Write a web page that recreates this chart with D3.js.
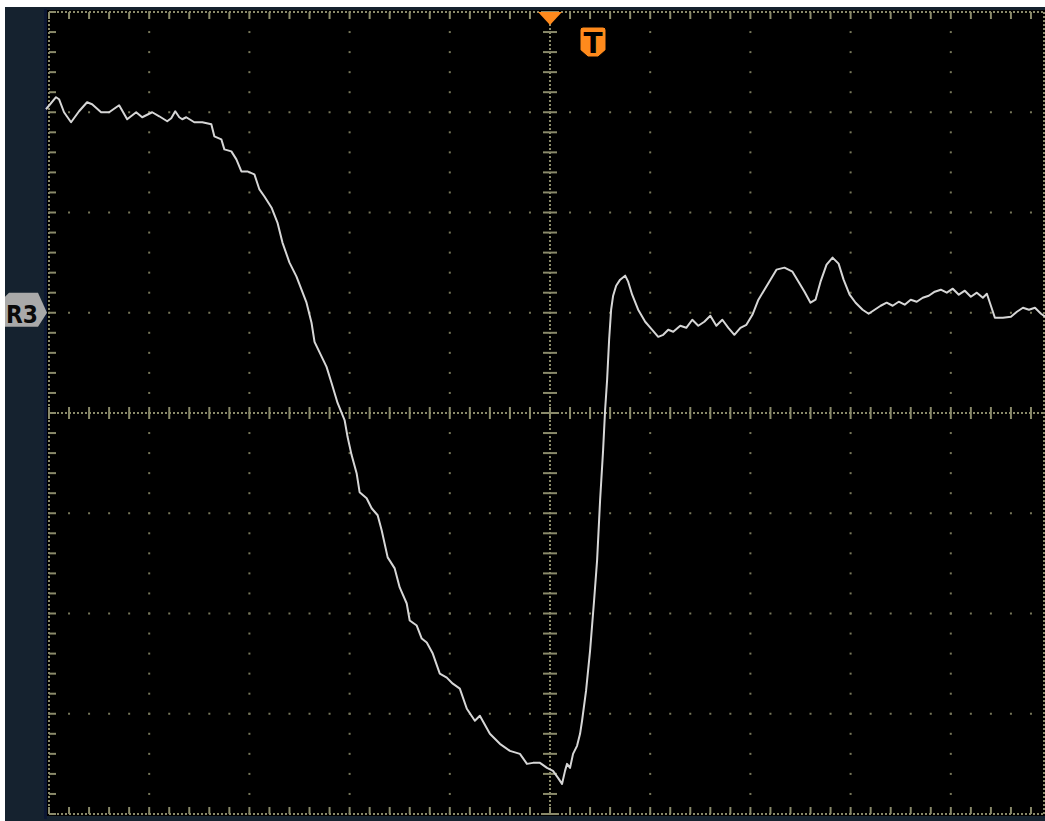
<!DOCTYPE html>
<html>
<head>
<meta charset="utf-8">
<script src="https://cdn.jsdelivr.net/npm/d3@7"></script>
<style>
    html, body { margin: 0; padding: 0; background: #fff; }
    svg { display: block; }
</style>
</head>
<body>
<svg id="scope" width="1045" height="821"></svg>
<script>
// Scope capture, one reference trace (R3).
// Time and level are both in screen divisions, 0 = centre of the graticule.

const traceTime = [
    -5.03, -4.93, -4.90, -4.85, -4.78, -4.70, -4.62, -4.57, -4.48, -4.40,
    -4.30, -4.22, -4.13, -4.07, -3.97, -3.90, -3.82, -3.78, -3.74, -3.70,
    -3.67, -3.63, -3.55, -3.47, -3.38, -3.35, -3.28, -3.25, -3.18, -3.13,
    -3.08, -3.02, -2.95, -2.90, -2.85, -2.78, -2.72, -2.67, -2.60, -2.53,
    -2.43, -2.38, -2.35, -2.23, -2.18, -2.12, -2.05, -2.02, -1.98, -1.93,
    -1.90, -1.83, -1.78, -1.72, -1.68, -1.62, -1.55, -1.50, -1.43, -1.40,
    -1.33, -1.28, -1.23, -1.17, -1.10, -1.03, -0.97, -0.90, -0.83, -0.75,
    -0.70, -0.60, -0.50, -0.40, -0.30, -0.23, -0.17, -0.10, -0.03, 0.03,
    0.08, 0.12, 0.15, 0.17, 0.20, 0.23, 0.27, 0.30, 0.32, 0.36,
    0.40, 0.44, 0.47, 0.50, 0.53, 0.55, 0.57, 0.59, 0.61, 0.63,
    0.66, 0.70, 0.75, 0.78, 0.82, 0.88, 0.95, 1.02, 1.08, 1.13,
    1.18, 1.23, 1.30, 1.36, 1.42, 1.48, 1.54, 1.60, 1.66, 1.72,
    1.78, 1.84, 1.90, 1.96, 2.02, 2.08, 2.14, 2.20, 2.26, 2.34,
    2.42, 2.48, 2.54, 2.60, 2.65, 2.70, 2.76, 2.82, 2.88, 2.93,
    2.99, 3.05, 3.12, 3.18, 3.24, 3.30, 3.36, 3.42, 3.48, 3.54,
    3.60, 3.66, 3.72, 3.78, 3.84, 3.90, 3.96, 4.02, 4.08, 4.14,
    4.20, 4.26, 4.32, 4.36, 4.40, 4.44, 4.52, 4.60, 4.66, 4.72,
    4.78, 4.84, 4.90, 4.96,
];

const traceLevel = [
    3.03, 3.15, 3.13, 3.00, 2.90, 3.01, 3.10, 3.08, 3.00, 3.00,
    3.07, 2.93, 3.00, 2.95, 3.00, 2.96, 2.91, 2.94, 3.01, 2.95,
    2.93, 2.95, 2.90, 2.90, 2.88, 2.76, 2.73, 2.63, 2.61, 2.53,
    2.41, 2.41, 2.38, 2.23, 2.16, 2.05, 1.90, 1.70, 1.50, 1.36,
    1.10, 0.90, 0.71, 0.46, 0.30, 0.10, -0.07, -0.24, -0.42, -0.60,
    -0.79, -0.85, -0.95, -1.02, -1.17, -1.44, -1.55, -1.74, -1.90, -2.07,
    -2.12, -2.25, -2.29, -2.40, -2.60, -2.64, -2.70, -2.75, -2.95, -3.07,
    -3.02, -3.20, -3.30, -3.37, -3.40, -3.50, -3.49, -3.49, -3.54, -3.57,
    -3.64, -3.70, -3.57, -3.50, -3.54, -3.40, -3.32, -3.20, -3.07, -2.77,
    -2.37, -1.87, -1.47, -0.87, -0.37, 0.03, 0.33, 0.73, 1.03, 1.17,
    1.27, 1.33, 1.37, 1.31, 1.18, 1.03, 0.91, 0.83, 0.76, 0.78,
    0.83, 0.81, 0.87, 0.85, 0.93, 0.87, 0.91, 0.97, 0.87, 0.93,
    0.85, 0.78, 0.85, 0.88, 0.98, 1.13, 1.23, 1.33, 1.43, 1.45,
    1.41, 1.31, 1.21, 1.10, 1.13, 1.31, 1.48, 1.55, 1.49, 1.33,
    1.18, 1.10, 1.03, 0.99, 1.03, 1.07, 1.10, 1.07, 1.11, 1.08,
    1.13, 1.11, 1.15, 1.17, 1.21, 1.23, 1.20, 1.24, 1.18, 1.22,
    1.16, 1.20, 1.15, 1.19, 1.07, 0.95, 0.95, 0.96, 1.01, 1.05,
    1.03, 1.05, 0.99, 0.95,
];

const timeDivs = d3.range(-5, 6);
const levelDivs = d3.range(-4, 5);
const refLabel = 'R3';
const refLevel = 1;
const triggerTime = 0;

const gridColor = '#77775a';
const tickColor = '#8a8a6a';
const traceColor = '#d6d6d6';
const orange = '#ff8a1c';

const svg = d3.select('#scope');

const x = d3.scaleLinear().domain([-5, 5]).range([49, 1051]);
const y = d3.scaleLinear().domain([-4, 4]).range([814, 12]);

// frame / panels
svg.append('rect').attr('x', 5).attr('y', 7).attr('width', 1040).attr('height', 814)
    .attr('fill', '#15222f');
svg.append('rect').attr('x', 44).attr('y', 9).attr('width', 3).attr('height', 810)
    .attr('fill', '#0c1733');
svg.append('rect').attr('x', 47).attr('y', 10).attr('width', 998).attr('height', 806)
    .attr('fill', '#000');

const grid = svg.append('g').attr('class', 'graticule');

// sparse dotted division lines
const minor = d3.range(-5, 5.001, 0.2);
const minorY = d3.range(-4, 4.001, 0.2);

timeDivs.filter(d => d !== 0 && Math.abs(d) !== 5).forEach(t => {
    grid.append('g').selectAll('rect').data(minorY).enter().append('rect')
        .attr('x', x(t) - 1).attr('y', d => y(d) - 1)
        .attr('width', 2).attr('height', 2)
        .attr('fill', gridColor);
});

levelDivs.filter(d => d !== 0 && Math.abs(d) !== 4).forEach(v => {
    grid.append('g').selectAll('rect').data(minor).enter().append('rect')
        .attr('x', d => x(d) - 1).attr('y', y(v) - 1)
        .attr('width', 2).attr('height', 2)
        .attr('fill', gridColor);
});

// centre cross, dense with tick marks
grid.append('line')
    .attr('x1', x(-5)).attr('x2', x(5)).attr('y1', y(0)).attr('y2', y(0))
    .attr('stroke', tickColor).attr('stroke-width', 2).attr('stroke-dasharray', '2,2');
grid.append('line')
    .attr('x1', x(0)).attr('x2', x(0)).attr('y1', y(4)).attr('y2', y(-4))
    .attr('stroke', tickColor).attr('stroke-width', 2).attr('stroke-dasharray', '2,2');

grid.append('g').selectAll('line').data(minor).enter().append('line')
    .attr('x1', d => x(d)).attr('x2', d => x(d))
    .attr('y1', y(0) - 6).attr('y2', y(0) + 6)
    .attr('stroke', tickColor).attr('stroke-width', 2);
grid.append('g').selectAll('line').data(minorY).enter().append('line')
    .attr('x1', x(0) - 7).attr('x2', x(0) + 7)
    .attr('y1', d => y(d)).attr('y2', d => y(d))
    .attr('stroke', tickColor).attr('stroke-width', 2);

// edges
const edges = [
    { x1: x(-5), x2: x(5), y1: y(4), y2: y(4) },
    { x1: x(-5), x2: x(5), y1: y(-4), y2: y(-4) },
    { x1: x(-5), x2: x(-5), y1: y(4), y2: y(-4) },
    { x1: 1044, x2: 1044, y1: y(4), y2: y(-4) },
];
grid.append('g').selectAll('line').data(edges).enter().append('line')
    .attr('x1', d => d.x1).attr('x2', d => d.x2)
    .attr('y1', d => d.y1).attr('y2', d => d.y2)
    .attr('stroke', tickColor).attr('stroke-width', 2).attr('stroke-dasharray', '2,2');

grid.append('g').selectAll('line').data(minor).enter().append('line')
    .attr('x1', d => x(d)).attr('x2', d => x(d))
    .attr('y1', y(4)).attr('y2', y(4) + 7)
    .attr('stroke', tickColor).attr('stroke-width', 2);
grid.append('g').selectAll('line').data(minor).enter().append('line')
    .attr('x1', d => x(d)).attr('x2', d => x(d))
    .attr('y1', y(-4) - 7).attr('y2', y(-4))
    .attr('stroke', tickColor).attr('stroke-width', 2);
grid.append('g').selectAll('line').data(minorY).enter().append('line')
    .attr('x1', x(-5)).attr('x2', x(-5) + 7)
    .attr('y1', d => y(d)).attr('y2', d => y(d))
    .attr('stroke', tickColor).attr('stroke-width', 2);

// the trace
const traceData = traceTime.map((t, i) => [t, traceLevel[i]]);

const line = d3.line()
    .x(d => x(d[0]))
    .y(d => y(d[1]));

svg.append('path')
    .datum(traceData)
    .attr('d', line)
    .attr('fill', 'none')
    .attr('stroke', traceColor)
    .attr('stroke-width', 2)
    .attr('stroke-linejoin', 'round');

// reference marker on the left
const ry = y(refLevel);
svg.append('path')
    .attr('d', `M5,${ry - 16} L9,${ry - 20} L38,${ry - 20} L47,${ry} L38,${ry + 14} L5,${ry + 14} Z`)
    .attr('fill', '#a9a9a9');
svg.append('text')
    .attr('x', 6).attr('y', ry + 10)
    .attr('font-family', 'DejaVu Sans Condensed, DejaVu Sans, sans-serif')
    .attr('font-weight', 'bold')
    .attr('font-size', 25)
    .attr('textLength', 32)
    .attr('lengthAdjust', 'spacingAndGlyphs')
    .attr('fill', '#0a0a0a')
    .text(refLabel);

// trigger position and badge
const tx = x(triggerTime);
svg.append('path')
    .attr('d', `M${tx - 12},12 L${tx + 12},12 L${tx},25 Z`)
    .attr('fill', orange);

svg.append('path')
    .attr('d', 'M580,30 Q580,27 583,27 L603,27 Q606,27 606,30 L606,50 L598,57 L588,57 L580,50 Z')
    .attr('fill', orange)
    .attr('stroke', '#000')
    .attr('stroke-width', 1);
svg.append('text')
    .attr('x', 593).attr('y', 53)
    .attr('text-anchor', 'middle')
    .attr('font-family', 'DejaVu Sans, sans-serif')
    .attr('font-weight', 'bold')
    .attr('font-size', 28)
    .attr('fill', '#000')
    .text('T');
</script>
</body>
</html>
